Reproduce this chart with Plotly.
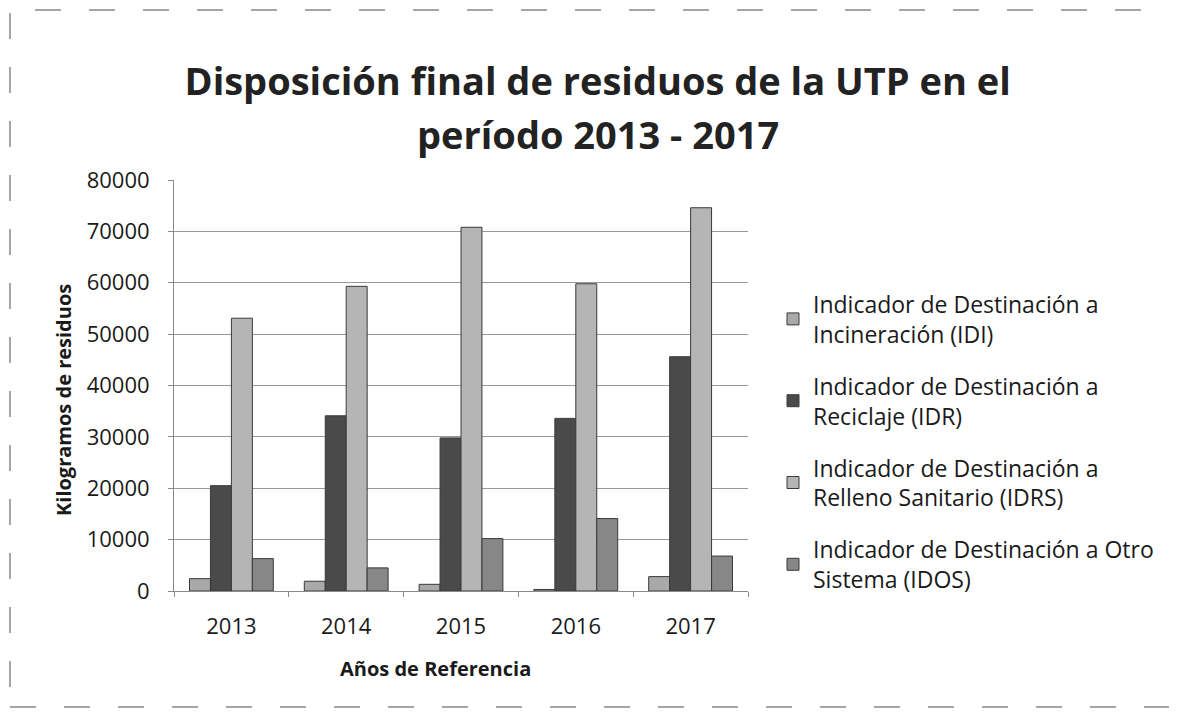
import plotly.graph_objects as go

years = ["2013", "2014", "2015", "2016", "2017"]
idi = [2400, 1900, 1300, 300, 2800]
idr = [20500, 34100, 29800, 33600, 45600]
idrs = [53100, 59300, 70800, 59800, 74600]
idos = [6300, 4500, 10200, 14100, 6800]

series_names = [
    "Indicador de Destinación a<br>Incineración (IDI)",
    "Indicador de Destinación a<br>Reciclaje (IDR)",
    "Indicador de Destinación a<br>Relleno Sanitario (IDRS)",
    "Indicador de Destinación a Otro<br>Sistema (IDOS)",
]
series_values = [idi, idr, idrs, idos]
colors = ["#a9a9a9", "#4a4a4a", "#b5b5b5", "#878787"]

FONT = "Open Sans"
TXT = "#1a1a1a"

W, H = 1177, 713
L, T, PW, PH = 166, 172, 574, 411
R, B = W - L - PW, H - T - PH


def px2x(px):
    return (px - L) / PW


def px2y(py):
    return (T + PH - py) / PH


fig = go.Figure()
for i, (name, vals, col) in enumerate(zip(series_names, series_values, colors)):
    fig.add_trace(go.Bar(
        x=years, y=vals, name=name,
        marker=dict(color=col, line=dict(color="#3a3a3a", width=1)),
        legendgroup=f"g{i}",
    ))

fig.update_layout(
    width=W, height=H,
    paper_bgcolor="white", plot_bgcolor="white",
    barmode="group", bargap=0.27, bargroupgap=0,
    margin=dict(l=L, r=R, t=T, b=B),
    font=dict(family=FONT, color=TXT),
    title=dict(
        text="<b>Disposición final de residuos de la UTP en el</b>",
        x=0.501, xanchor="center", y=1 - 74 / H, yanchor="middle",
        font=dict(family=FONT, size=38, color="#222222"),
    ),
    legend=dict(
        x=px2x(765), xanchor="left", y=px2y(434), yanchor="middle",
        font=dict(family=FONT, size=23, color=TXT),
        tracegroupgap=19, itemwidth=30,
        bgcolor="rgba(0,0,0,0)",
    ),
    xaxis=dict(
        type="category",
        tickfont=dict(family=FONT, size=22, color=TXT),
        showline=True, linecolor="#8a8a8a", linewidth=1,
        ticks="outside", tickson="boundaries", ticklen=5, tickcolor="#8a8a8a",
        ticklabelstandoff=16,
        showgrid=False,
    ),
    yaxis=dict(
        range=[0, 80000], dtick=10000, tickformat="d",
        tickfont=dict(family=FONT, size=22, color=TXT),
        showline=True, linecolor="#8a8a8a", linewidth=1,
        ticks="outside", ticklen=5, tickcolor="#8a8a8a",
        ticklabelstandoff=14,
        showgrid=True, gridcolor="#999999", gridwidth=1,
        zeroline=False,
    ),
    annotations=[
        dict(text="<b>período 2013 - 2017</b>", xref="paper", yref="paper",
             x=px2x(590), y=px2y(126), xanchor="center", yanchor="middle",
             showarrow=False, font=dict(family=FONT, size=38, color="#222222")),
        dict(text="<b>Años de Referencia</b>", xref="paper", yref="paper",
             x=px2x(427), y=px2y(660), xanchor="center", yanchor="middle",
             showarrow=False, font=dict(family=FONT, size=20, color=TXT)),
        dict(text="<b>Kilogramos de residuos</b>", xref="paper", yref="paper",
             x=px2x(55), y=px2y(392), xanchor="center", yanchor="middle",
             textangle=-90, showarrow=False, font=dict(family=FONT, size=20, color=TXT)),
    ],
    shapes=[dict(
        type="rect", xref="paper", yref="paper",
        x0=px2x(2), x1=px2x(1164), y0=px2y(699), y1=px2y(2),
        line=dict(color="#a5a5a5", width=2, dash="26px,28px"),
        layer="below",
    )],
)

fig.write_html("out.html")
